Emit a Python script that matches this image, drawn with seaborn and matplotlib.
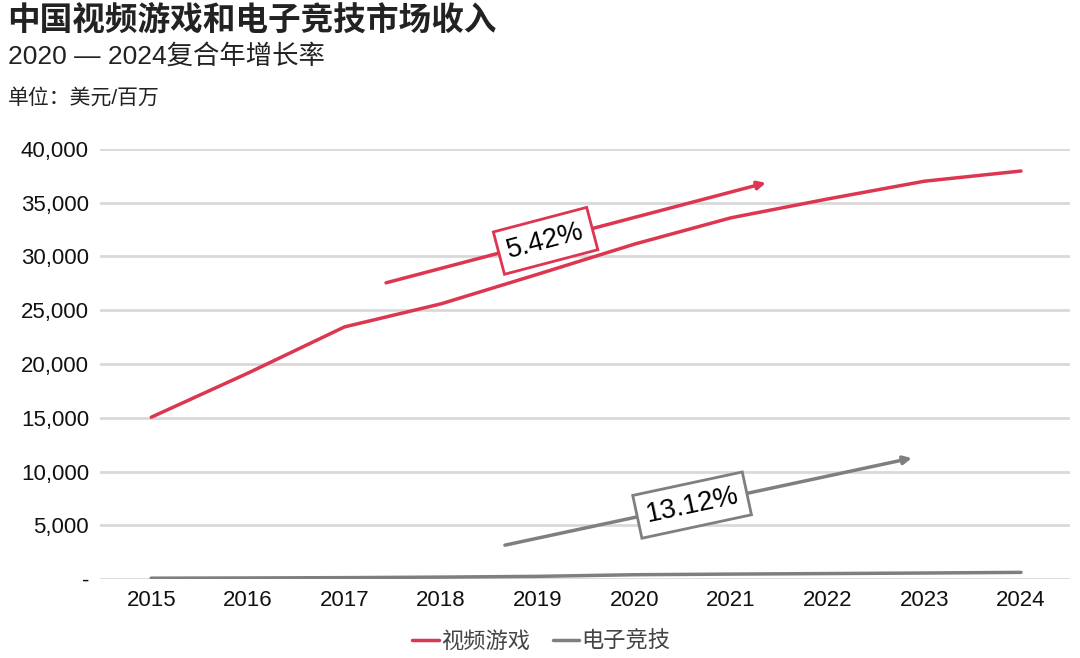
import numpy as np
import pandas as pd
import matplotlib
matplotlib.use("Agg")
import matplotlib.pyplot as plt
import seaborn as sns

years = [2015, 2016, 2017, 2018, 2019, 2020, 2021, 2022, 2023, 2024]
video_games = [15050, 19150, 23450, 25600, 28350, 31150, 33600, 35350, 37000, 37950]
esports = [80, 100, 130, 180, 250, 400, 460, 510, 560, 620]
series_names = ["视频游戏", "电子竞技"]
y_ticks = [0, 5000, 10000, 15000, 20000, 25000, 30000, 35000, 40000]
y_tick_labels = ["-", "5,000", "10,000", "15,000", "20,000", "25,000", "30,000", "35,000", "40,000"]
cagr_labels = ["5.42%", "13.12%"]
# arrow start/end in data units
cagr_arrows = [((2017.43, 27550), (2021.36, 36850)), ((2018.66, 3150), (2022.87, 11250))]
# where along each arrow the label box sits (0 = start, 1 = end)
label_pos = [0.42, 0.46]

RED = "#DC3651"
GREY = "#7F7F7F"

sns.set_theme(style="white")
plt.rcParams["font.family"] = ["Liberation Sans", "Noto Sans CJK SC", "DejaVu Sans"]

df = pd.DataFrame({
    "year": years * 2,
    "value": video_games + esports,
    "series": [series_names[0]] * len(years) + [series_names[1]] * len(years),
})

fig = plt.figure(figsize=(10.8, 6.58), dpi=100)
ax = fig.add_axes([0.0926, 0.12, 0.8984, 0.6536])

for y in y_ticks:
    ax.axhline(y, color="#D9D9D9", lw=2, zorder=0)

sns.lineplot(data=df, x="year", y="value", hue="series",
             palette={series_names[0]: RED, series_names[1]: GREY},
             linewidth=2.5, ax=ax, legend=True)

ax.set_xlim(2014.47, 2024.51)
ax.set_ylim(0, 40000)
ax.set_xticks(years)
ax.set_xticklabels([str(y) for y in years], fontsize=16, color="#111111")
ax.set_yticks(y_ticks)
ax.set_yticklabels(y_tick_labels, fontsize=16, color="#111111")
ax.tick_params(axis="both", length=0, pad=8)
ax.set_xlabel("")
ax.set_ylabel("")
for s in ax.spines.values():
    s.set_visible(False)

for (start, end), label, color, f in zip(cagr_arrows, cagr_labels, [RED, GREY], label_pos):
    ax.annotate("", xy=end, xytext=start,
                arrowprops=dict(arrowstyle="-|>", color=color, lw=2.5,
                                mutation_scale=12, shrinkA=0, shrinkB=0))
    p0 = ax.transData.transform(start)
    p1 = ax.transData.transform(end)
    angle = np.degrees(np.arctan2(p1[1] - p0[1], p1[0] - p0[0]))
    mx = start[0] + f * (end[0] - start[0])
    my = start[1] + f * (end[1] - start[1])
    ax.text(mx, my, label, rotation=angle, rotation_mode="anchor",
            ha="center", va="center", fontsize=20, color="black", zorder=5,
            bbox=dict(boxstyle="square,pad=0.32", fc="white", ec=color, lw=2))

leg = ax.legend(loc="upper center", bbox_to_anchor=(0.455, -0.075), ncol=2, frameon=False,
                fontsize=16, handlelength=1.2, handletextpad=0.1, columnspacing=1.0)
for t in leg.get_texts():
    t.set_color("#444444")

fig.text(0.007, 0.968, "中国视频游戏和电子竞技市场收入", fontsize=23.5, fontweight="bold",
         color="#222222", va="center", ha="left")
fig.text(0.007, 0.915, "2020 — 2024复合年增长率", fontsize=19, color="#222222", va="center", ha="left")
fig.text(0.007, 0.852, "单位：美元/百万", fontsize=15, color="#222222", va="center", ha="left")

fig.savefig("out.png", dpi=100)
